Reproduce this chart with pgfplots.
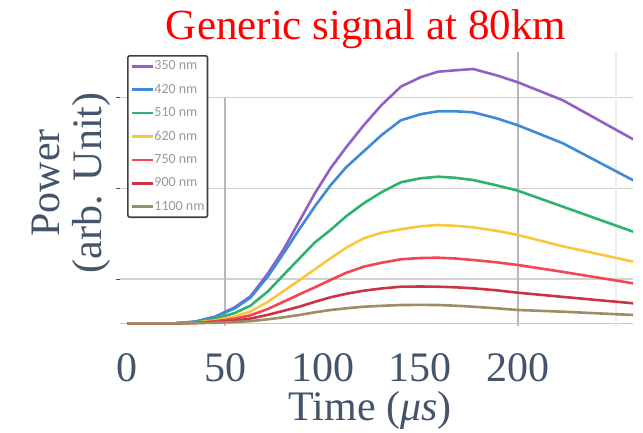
\documentclass[border=0pt]{standalone}
\usepackage{fontspec}
\setmainfont{Liberation Serif}
\newfontfamily\lgdfont{Carlito}
\usepackage{pgfplots}
\pgfplotsset{compat=1.18}
\usepackage{pgfplotstable}

\definecolor{txt}{HTML}{44546A}
\definecolor{c350}{HTML}{9060C8}
\definecolor{c420}{HTML}{3F8AD6}
\definecolor{c510}{HTML}{2EB36E}
\definecolor{c620}{HTML}{F8C83A}
\definecolor{c750}{HTML}{F54552}
\definecolor{c900}{HTML}{CC3344}
\definecolor{c1100}{HTML}{9B8E62}

% power vs time (arb. units)
\pgfplotstableread{
t   p350  p420 p510  p620 p750 p900 p1100
0   0     0    0     0    0    0    0
25  0     0    0     0    0    0    0
35  1.8   1.7  1.2   0.8  0.5  0.3  0.15
45  6.7   6.4  4.4   2.9  2.0  1.1  0.55
55  16    15   10.3  6.9  4.6  2.6  1.3
63  27    25.6 17.6  11.8 8.0  4.7  2.2
72  50    47   32    21.6 14.4 8.5  4.0
80  74    70   48.5  32.3 21.6 12.5 6.0
88  102   94   64.7  43   28.9 16.6 8.3
96  130   117  80.9  54   36   21.5 11
104 155   138  93.3  65   43.3 26   13.3
112 176   156  107   75.5 50.5 29.5 15
121 198   172  120   85   56.6 32.6 16.6
130 218   188  131   90.5 60.5 34.8 17.5
140 236.6 203  141   94   64   36.6 18.3
150 246   209  145   97   65.3 36.8 18.4
159 251.6 212  146.6 98.3 65.6 36.6 18.3
168 253   212  145.5 97.5 64.8 36   17.6
177 254.3 211  143.3 96   63.3 35   16.6
189 248   205  138   92.5 61   33   15
200 241   198  132.6 88.3 58.3 30.6 13.3
223 223   180  116.6 77   51.4 26.4 11.6
259 184   143  91.6  61.6 40   20   8.3
}\sig

\begin{document}
\begin{tikzpicture}
\useasboundingbox (-120pt,-105.7pt) rectangle (523pt,326.3pt);
\begin{axis}[
  scale only axis, width=513pt, height=274pt,
  xmin=-3.8, xmax=258.9, ymin=-3, ymax=271,
  axis line style={draw=none},
  xtick={0,50,100,150,200},
  xtick style={draw=none},
  xticklabel style={anchor=base, yshift=-50.7pt, text=txt, font=\fontsize{42}{48}\selectfont},
  /pgf/number format/assume math mode=true,
  ytick={44.3,135,225.6}, yticklabels={},
  ytick pos=left, tick align=outside, major tick length=4pt,
  ytick style={draw=black!70, line width=1pt},
  ymajorgrids, major grid style={draw=black!18, line width=1.5pt},
  extra y ticks={0}, extra y tick labels={},
  extra y tick style={major tick length=0pt, major grid style={draw=black!22, line width=1.5pt}},
  legend image code/.code={\draw[#1] (0pt,0pt) -- (21pt,0pt);},
  legend cell align=left,
  legend style={at={(axis cs:-0.2,268.3)}, anchor=north west,
    draw=black!75, line width=1.6pt, rounded corners=2pt, fill=white,
    font=\lgdfont\fontsize{14}{16}\selectfont, text=black!40,
    inner xsep=3pt, inner ysep=4pt, row sep=10.4pt,
    nodes={inner sep=0pt, text height=10pt, text depth=3pt}},
  every axis plot/.append style={line width=2.6pt},
]
\draw[black!28, line width=2.5pt] (axis cs:50,-3) -- (axis cs:50,225.6);
\draw[black!28, line width=2.5pt] (axis cs:200,-3) -- (axis cs:200,271);
\draw[black!7, line width=2pt] (axis cs:250,-3) -- (axis cs:250,271);
\addplot[c350]  table[x=t,y=p350]  {\sig}; \addlegendentry{350 nm}
\addplot[c420]  table[x=t,y=p420]  {\sig}; \addlegendentry{420 nm}
\addplot[c510]  table[x=t,y=p510]  {\sig}; \addlegendentry{510 nm}
\addplot[c620]  table[x=t,y=p620]  {\sig}; \addlegendentry{620 nm}
\addplot[c750]  table[x=t,y=p750]  {\sig}; \addlegendentry{750 nm}
\addplot[c900]  table[x=t,y=p900]  {\sig}; \addlegendentry{900 nm}
\addplot[c1100] table[x=t,y=p1100] {\sig}; \addlegendentry{1100 nm}
\end{axis}
\node[anchor=base, text=red, font=\fontsize{43}{50}\selectfont] at (246pt,287.3pt) {Generic signal at 80km};
\node[anchor=base, text=txt, font=\fontsize{42}{48}\selectfont] at (250pt,-93.7pt) {Time ({\itshape μs})};
\node[anchor=base, rotate=90, text=txt, font=\fontsize{42}{48}\selectfont] at (-60pt,143.3pt) {Power};
\node[anchor=base, rotate=90, text=txt, font=\fontsize{42}{48}\selectfont] at (-18.3pt,143.3pt) {(arb. Unit)};
\end{tikzpicture}
\end{document}
